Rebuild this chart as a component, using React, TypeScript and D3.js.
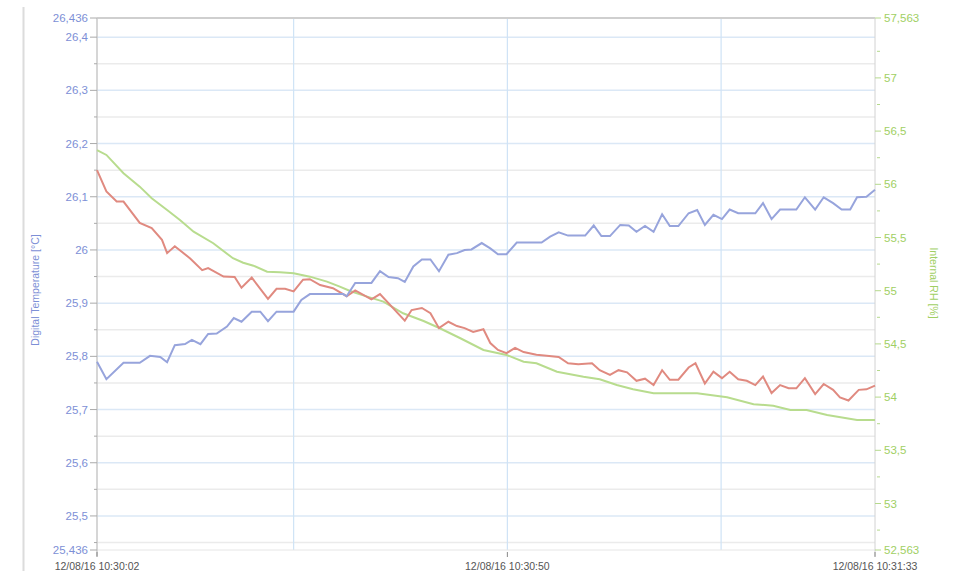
import React from 'react';
import * as d3 from 'd3';

// seconds after 12/08/16 10:30:02, value
const temperature: [number, number][] = [
  [0, 25.79], [1.1, 25.757], [3.1, 25.788], [5.0, 25.788], [6.2, 25.801], [7.4, 25.799], [8.2, 25.789],
  [9.1, 25.821], [10.3, 25.823], [11.1, 25.831], [12.1, 25.823], [13.0, 25.842], [14.0, 25.843],
  [15.2, 25.856], [16.0, 25.872], [16.9, 25.865], [18.1, 25.884], [19.1, 25.884], [20.0, 25.866],
  [21.0, 25.884], [23.0, 25.884], [23.9, 25.906], [24.9, 25.917], [28.8, 25.917], [29.2, 25.913],
  [30.2, 25.938], [32.1, 25.938], [33.1, 25.96], [34.1, 25.949], [35.2, 25.947], [36.0, 25.94],
  [37.0, 25.969], [38.0, 25.982], [39.0, 25.982], [40.0, 25.96], [41.1, 25.991], [42.1, 25.994],
  [43.0, 26.0], [43.8, 26.001], [45.0, 26.013], [46.0, 26.003], [46.9, 25.992], [47.9, 25.992],
  [49.1, 26.014], [52.0, 26.014], [53.0, 26.025], [54.0, 26.033], [55.1, 26.027], [57.1, 26.027],
  [58.1, 26.046], [59.0, 26.026], [60.0, 26.026], [61.2, 26.047], [62.2, 26.046], [63.1, 26.034],
  [64.1, 26.045], [65.1, 26.034], [66.1, 26.067], [67.0, 26.045], [68.0, 26.045], [69.2, 26.069],
  [70.2, 26.075], [71.1, 26.047], [72.1, 26.066], [73.1, 26.058], [74.0, 26.076], [75.0, 26.069],
  [77.0, 26.069], [77.9, 26.088], [78.9, 26.058], [79.9, 26.076], [81.8, 26.076], [82.8, 26.099],
  [84.0, 26.076], [85.0, 26.099], [86.1, 26.088], [87.1, 26.076], [88.1, 26.076], [88.9, 26.099],
  [90.0, 26.1], [91.0, 26.113],
];

const temperature2: [number, number][] = [
  [0, 26.15], [1.1, 26.11], [2.3, 26.091], [3.1, 26.091], [5.0, 26.051], [6.4, 26.041], [7.6, 26.019],
  [8.2, 25.994], [9.1, 26.007], [10.9, 25.984], [12.3, 25.962], [13.0, 25.966], [14.8, 25.95],
  [16.1, 25.949], [16.9, 25.929], [18.1, 25.948], [20.0, 25.908], [21.0, 25.927], [22.0, 25.927],
  [23.0, 25.922], [24.1, 25.944], [24.9, 25.945], [26.1, 25.934], [27.6, 25.928], [29.2, 25.913],
  [30.2, 25.924], [32.1, 25.907], [33.1, 25.917], [36.0, 25.867], [36.8, 25.887], [38.0, 25.891],
  [39.0, 25.881], [40.0, 25.853], [41.1, 25.865], [42.1, 25.857], [43.0, 25.853], [44.0, 25.846],
  [45.2, 25.851], [46.0, 25.825], [46.9, 25.812], [47.9, 25.806], [48.9, 25.816], [49.9, 25.808],
  [51.4, 25.803], [52.6, 25.801], [54.0, 25.799], [55.1, 25.787], [56.3, 25.785], [57.9, 25.787],
  [58.8, 25.774], [60.0, 25.765], [61.0, 25.774], [62.0, 25.77], [63.1, 25.754], [64.1, 25.758],
  [65.1, 25.746], [66.1, 25.774], [67.0, 25.756], [68.0, 25.756], [69.2, 25.779], [70.0, 25.787],
  [71.1, 25.749], [72.1, 25.771], [73.1, 25.759], [74.0, 25.771], [75.0, 25.757], [76.0, 25.754],
  [77.0, 25.746], [77.9, 25.762], [78.9, 25.731], [79.9, 25.746], [80.9, 25.74], [81.8, 25.74],
  [82.8, 25.759], [84.0, 25.729], [85.0, 25.748], [86.1, 25.737], [86.9, 25.723], [87.9, 25.717],
  [89.1, 25.737], [90.0, 25.738], [91.0, 25.745],
];

const humidity: [number, number][] = [
  [0, 56.322], [1.1, 56.276], [3.1, 56.104], [5.0, 55.978], [6.4, 55.869], [8.2, 55.759], [9.7, 55.665],
  [11.3, 55.555], [13.6, 55.446], [15.9, 55.305], [17.1, 55.263], [18.3, 55.235], [19.9, 55.179],
  [21.4, 55.173], [23.0, 55.164], [24.9, 55.132], [26.9, 55.085], [28.4, 55.038], [29.6, 54.997],
  [31.6, 54.944], [33.5, 54.897], [35.8, 54.788], [38.2, 54.715], [40.1, 54.647], [42.5, 54.553],
  [45.2, 54.443], [47.9, 54.396], [49.9, 54.333], [51.4, 54.318], [53.8, 54.239], [56.9, 54.192],
  [58.8, 54.168], [60.8, 54.114], [62.7, 54.074], [65.1, 54.036], [70.2, 54.036], [73.7, 53.998],
  [76.8, 53.933], [79.1, 53.919], [81.1, 53.879], [83.0, 53.879], [85.4, 53.832], [88.9, 53.785],
  [91.0, 53.785],
];

const leftDomain = [25.436, 26.436];
const rightDomain = [52.563, 57.563];
const leftTicks = [25.436, 25.5, 25.6, 25.7, 25.8, 25.9, 26, 26.1, 26.2, 26.3, 26.4, 26.436];
const rightTicks = [52.563, 53, 53.5, 54, 54.5, 55, 55.5, 56, 56.5, 57, 57.563];
const xLabelSecs = [0, 48, 91];
const xGridSecs = [23, 48, 73];

const start = new Date(2016, 7, 12, 10, 30, 2);
const at = (s: number) => new Date(start.getTime() + s * 1000);
const fmtTime = d3.timeFormat('%d/%m/%y %H:%M:%S');
const fmtNum = (v: number) => String(+v.toFixed(3)).replace('.', ',');

export default function App() {
  const width = 953;
  const height = 571;
  const margin = { top: 18, right: 78, bottom: 21, left: 97 };
  const x0 = margin.left;
  const x1 = width - margin.right;
  const y0 = margin.top;
  const y1 = height - margin.bottom;

  const x = d3.scaleTime().domain([at(0), at(91)]).range([x0, x1]);
  const yL = d3.scaleLinear().domain(leftDomain).range([y1, y0]);
  const yR = d3.scaleLinear().domain(rightDomain).range([y1, y0]);

  const lineL = d3.line<[number, number]>().x((d) => x(at(d[0]))).y((d) => yL(d[1]));
  const lineR = d3.line<[number, number]>().x((d) => x(at(d[0]))).y((d) => yR(d[1]));

  // grid every 0.05 on the left scale
  const grid = d3.range(25.45, 26.42, 0.05).map((v) => +v.toFixed(2));
  const leftMinor = grid.filter((v) => Math.round(v * 100) % 10 !== 0);
  const rightMinor = d3.range(52.75, 57.5, 0.5);

  const blue = '#7d8fd6';
  const green = '#9fcf63';
  const font = 'Liberation Sans, Arial, sans-serif';

  return (
    <svg width={width} height={height} style={{ position: 'absolute', left: 0, top: 0, background: '#fff' }} fontFamily={font}>
      <line x1={23.5} x2={23.5} y1={7} y2={height} stroke="#dcdcdc" strokeWidth={2} />

      {grid.map((v) => {
        const major = Math.round(v * 100) % 10 === 0;
        return (
          <line key={v} x1={x0} x2={x1} y1={yL(v)} y2={yL(v)}
            stroke={major ? '#dbe8f6' : '#ebebeb'} strokeWidth={1.5} />
        );
      })}
      {xGridSecs.map((s) => (
        <line key={s} x1={x(at(s))} x2={x(at(s))} y1={y0} y2={y1} stroke="#cfe3f6" strokeWidth={1.2} />
      ))}

      <line x1={x0} x2={x1} y1={y0} y2={y0} stroke="#cfcfcf" strokeWidth={2} />
      <line x1={x0} x2={x1} y1={y1} y2={y1} stroke="#e6e6e6" strokeWidth={1} />
      <line x1={x0} x2={x0} y1={y0} y2={y1 + 6} stroke="#c8c8c8" strokeWidth={1.5} />
      <line x1={x1} x2={x1} y1={y0} y2={y1 + 6} stroke="#d2d2d2" strokeWidth={1} />

      {/* left axis */}
      {leftTicks.map((v) => (
        <g key={v}>
          <line x1={x0 - 7} x2={x0} y1={yL(v)} y2={yL(v)} stroke="#aaa" />
          <text x={x0 - 9} y={yL(v)} dy="0.35em" textAnchor="end" fontSize={11.5} fill={blue}>{fmtNum(v)}</text>
        </g>
      ))}
      {leftMinor.map((v) => (
        <line key={v} x1={x0 - 3} x2={x0} y1={yL(v)} y2={yL(v)} stroke="#aaa" />
      ))}
      <text transform={`translate(39,290) rotate(-90)`} textAnchor="middle" fontSize={10.5} fill={blue}>
        Digital Temperature [°C]
      </text>

      {/* right axis */}
      {rightTicks.map((v) => (
        <g key={v}>
          <line x1={x1} x2={x1 + 6} y1={yR(v)} y2={yR(v)} stroke="#b5d98c" />
          <text x={x1 + 9} y={yR(v)} dy="0.35em" fontSize={11.5} fill={green}>{fmtNum(v)}</text>
        </g>
      ))}
      {rightMinor.map((v) => (
        <line key={v} x1={x1 + 2} x2={x1 + 5} y1={yR(v)} y2={yR(v)} stroke="#b5d98c" />
      ))}
      <text transform={`translate(930,283) rotate(90)`} textAnchor="middle" fontSize={10.5} fill={green}>
        Internal RH [%]
      </text>

      {/* x axis */}
      {xLabelSecs.map((s) => (
        <g key={s}>
          <line x1={x(at(s))} x2={x(at(s))} y1={y1 + 2} y2={y1 + 7} stroke="#888" />
          <text x={x(at(s))} y={y1 + 20} textAnchor="middle" fontSize={10.5} fill="#555">{fmtTime(at(s))}</text>
        </g>
      ))}

      <path d={lineR(humidity) ?? ''} fill="none" stroke="#b8dc8e" strokeWidth={2} />
      <path d={lineL(temperature2) ?? ''} fill="none" stroke="#e08a80" strokeWidth={2} />
      <path d={lineL(temperature) ?? ''} fill="none" stroke="#97a4dc" strokeWidth={2} />
    </svg>
  );
}
